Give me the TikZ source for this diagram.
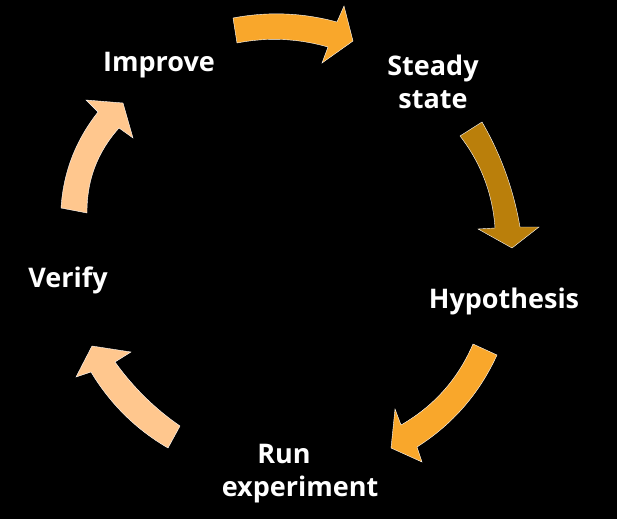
\documentclass[tikz,border=0pt]{standalone}
\usepackage{fontspec}
\setmainfont{Open Sans}
\definecolor{arrOrange}{HTML}{F9A72B}
\definecolor{arrGold}{HTML}{BA7F0B}
\definecolor{arrPeach}{HTML}{FFC78E}
\begin{document}
\begin{tikzpicture}[x=1pt,y=-1pt,
  lbl/.style={text=white,font=\fontsize{27}{33}\selectfont\bfseries,align=center,anchor=base,inner sep=0pt},
  arr/.style={draw=white,line width=0.4pt,line join=miter}]
\fill[black] (0,0) rectangle (617,519);
\useasboundingbox (0,0) rectangle (617,519);
% top arrow
\filldraw[arr,fill=arrOrange] (233,18) .. controls (268,11.3) and (302.6,12.7) .. (337,22) -- (344,6) -- (353,41) -- (322,63) -- (328,47) .. controls (297.9,38.4) and (267.6,37) .. (237,43) -- cycle;
% right arrow
\filldraw[arr,fill=arrGold] (460,136) .. controls (481,163.1) and (492.6,193.7) .. (495,228) -- (478,229) -- (512,248) -- (539,227) -- (520,227) .. controls (513.6,189.7) and (501,154.7) .. (482,122) -- cycle;
% bottom-right arrow
\filldraw[arr,fill=arrOrange] (473,344) -- (497,355) .. controls (479.4,393.6) and (452.8,424.2) .. (417,447) -- (422,462) -- (391,448) -- (395,409) -- (401,425) .. controls (434,406) and (458,379) .. (473,344) -- cycle;
% bottom-left arrow
\filldraw[arr,fill=arrPeach] (180,426) .. controls (154.6,408.5) and (133,387.1) .. (115,362) -- (131,352) -- (92,346) -- (76,377) -- (91,372) .. controls (110.2,403.9) and (135.8,429.3) .. (168,448) -- cycle;
% left arrow
\filldraw[arr,fill=arrPeach] (61,208) .. controls (63.3,172.2) and (75.7,140.2) .. (98,112) -- (86,100) -- (123,103) -- (133,138) -- (119,128) .. controls (97.1,152.4) and (86.7,180.8) .. (87,213) -- cycle;
% labels
\node[lbl] (improve) at (159,71) {Improve};
\node[lbl] (steady) at (433,108) {Steady\\state};
\node[lbl] (hyp) at (504,308) {Hypothesis};
\node[lbl] (run) at (300,496) {Run\hspace*{32pt}\\experiment};
\node[lbl] (verify) at (68,287) {Verify};
\end{tikzpicture}
\end{document}
